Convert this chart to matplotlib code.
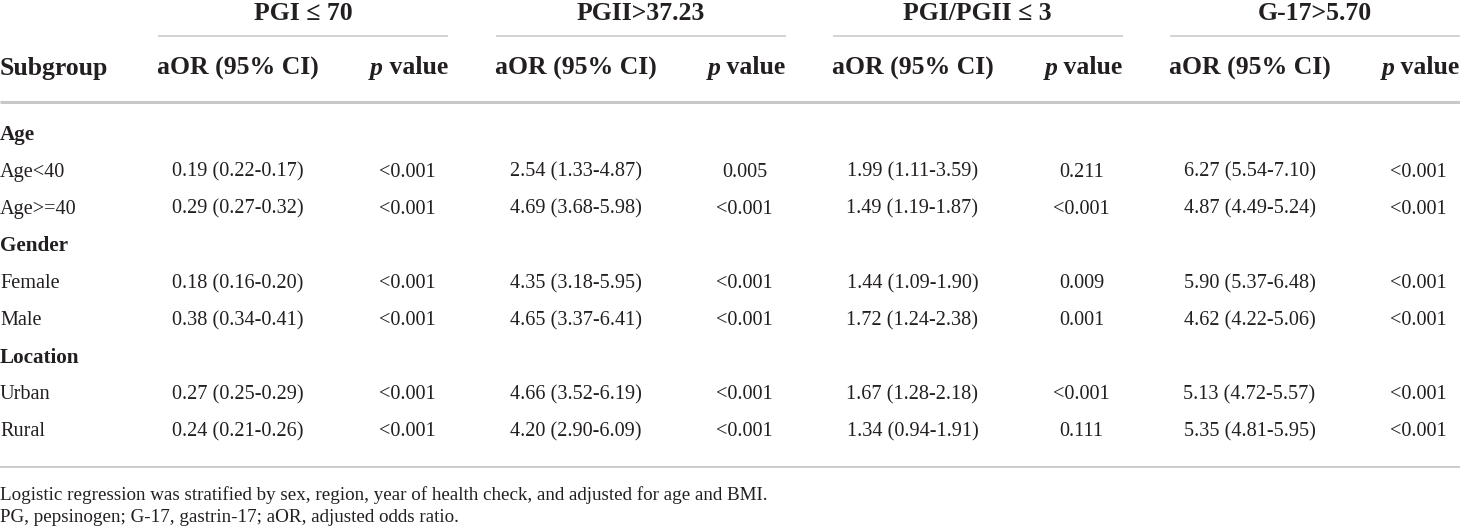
import matplotlib
matplotlib.use("Agg")
import matplotlib.pyplot as plt

# table content
groups = ["PGI \u2264 70", "PGII>37.23", "PGI/PGII \u2264 3", "G-17>5.70"]
rows = [
    ("Age", True),
    ("Age<40", False),
    ("Age>=40", False),
    ("Gender", True),
    ("Female", False),
    ("Male", False),
    ("Location", True),
    ("Urban", False),
    ("Rural", False),
]
aor = {
    "Age<40":  ["0.19 (0.22-0.17)", "2.54 (1.33-4.87)", "1.99 (1.11-3.59)", "6.27 (5.54-7.10)"],
    "Age>=40": ["0.29 (0.27-0.32)", "4.69 (3.68-5.98)", "1.49 (1.19-1.87)", "4.87 (4.49-5.24)"],
    "Female":  ["0.18 (0.16-0.20)", "4.35 (3.18-5.95)", "1.44 (1.09-1.90)", "5.90 (5.37-6.48)"],
    "Male":    ["0.38 (0.34-0.41)", "4.65 (3.37-6.41)", "1.72 (1.24-2.38)", "4.62 (4.22-5.06)"],
    "Urban":   ["0.27 (0.25-0.29)", "4.66 (3.52-6.19)", "1.67 (1.28-2.18)", "5.13 (4.72-5.57)"],
    "Rural":   ["0.24 (0.21-0.26)", "4.20 (2.90-6.09)", "1.34 (0.94-1.91)", "5.35 (4.81-5.95)"],
}
pvals = {
    "Age<40":  ["<0.001", "0.005", "0.211", "<0.001"],
    "Age>=40": ["<0.001", "<0.001", "<0.001", "<0.001"],
    "Female":  ["<0.001", "<0.001", "0.009", "<0.001"],
    "Male":    ["<0.001", "<0.001", "0.001", "<0.001"],
    "Urban":   ["<0.001", "<0.001", "<0.001", "<0.001"],
    "Rural":   ["<0.001", "<0.001", "0.111", "<0.001"],
}
footnotes = [
    "Logistic regression was stratified by sex, region, year of health check, and adjusted for age and BMI.",
    "PG, pepsinogen; G-17, gastrin-17; aOR, adjusted odds ratio.",
]

W, H = 1460, 527
serif = ["Liberation Serif", "DejaVu Serif"]
txt_col = "#231f20"
line_col = "#c8c8c8"

fig = plt.figure(figsize=(W / 100, H / 100), dpi=100)
ax = fig.add_axes([0, 0, 1, 1])
ax.set_xlim(0, W)
ax.set_ylim(H, 0)
ax.axis("off")
renderer = fig.canvas.get_renderer()

group_x0 = [158, 495.5, 832.5, 1169.5]
group_w = 290
aor_off, p_off = 80, 249
head_fs, body_fs = 18.5, 14.6


def text_width(t):
    bb = t.get_window_extent(renderer=renderer)
    return bb.width


# group titles and their underlines
for g, x0 in zip(groups, group_x0):
    ax.text(x0 + group_w / 2, 13, g, ha="center", va="center", fontsize=head_fs,
            fontweight="bold", family=serif, color=txt_col)
    ax.plot([x0, x0 + group_w], [36, 36], color=line_col, lw=1.1, solid_capstyle="butt")

# second header row
ax.text(0, 68, "Subgroup", ha="left", va="center", fontsize=head_fs,
        fontweight="bold", family=serif, color=txt_col)
for x0 in group_x0:
    ax.text(x0 + aor_off, 68, "aOR (95% CI)", ha="center", va="center", fontsize=head_fs,
            fontweight="bold", family=serif, color=txt_col)
    # "p value" with italic p, right edge at the end of the underline
    tv = ax.text(x0 + group_w, 68, " value", ha="right", va="center", fontsize=head_fs,
                 fontweight="bold", family=serif, color=txt_col)
    wv = text_width(tv)
    ax.text(x0 + group_w - wv, 68, "p", ha="right", va="center", fontsize=head_fs,
            fontweight="bold", style="italic", family=serif, color=txt_col)

ax.plot([0, W], [102, 102], color=line_col, lw=2.2, solid_capstyle="butt")

# body rows
y = 135
for name, is_head in rows:
    if is_head:
        ax.text(0, y, name, ha="left", va="center", fontsize=body_fs + 0.6,
                fontweight="bold", family=serif, color=txt_col)
    else:
        ax.text(0, y, name, ha="left", va="center", fontsize=body_fs,
                family=serif, color=txt_col)
        for i, x0 in enumerate(group_x0):
            ax.text(x0 + aor_off, y, aor[name][i], ha="center", va="center",
                    fontsize=body_fs, family=serif, color=txt_col)
            ax.text(x0 + p_off, y, pvals[name][i], ha="center", va="center",
                    fontsize=body_fs, family=serif, color=txt_col)
    y += 37.1

ax.plot([0, W], [467, 467], color=line_col, lw=1.3, solid_capstyle="butt")

# footnotes, first line fitted to its width in the reference
fn1 = ax.text(0, 495, footnotes[0], ha="left", va="center", fontsize=13,
              family=serif, color=txt_col)
fs_fn = 13 * 764 / text_width(fn1)
fn1.set_fontsize(fs_fn)
ax.text(0, 518, footnotes[1], ha="left", va="center", fontsize=fs_fn,
        family=serif, color=txt_col)

fig.savefig("out.png", dpi=100, facecolor="white")
